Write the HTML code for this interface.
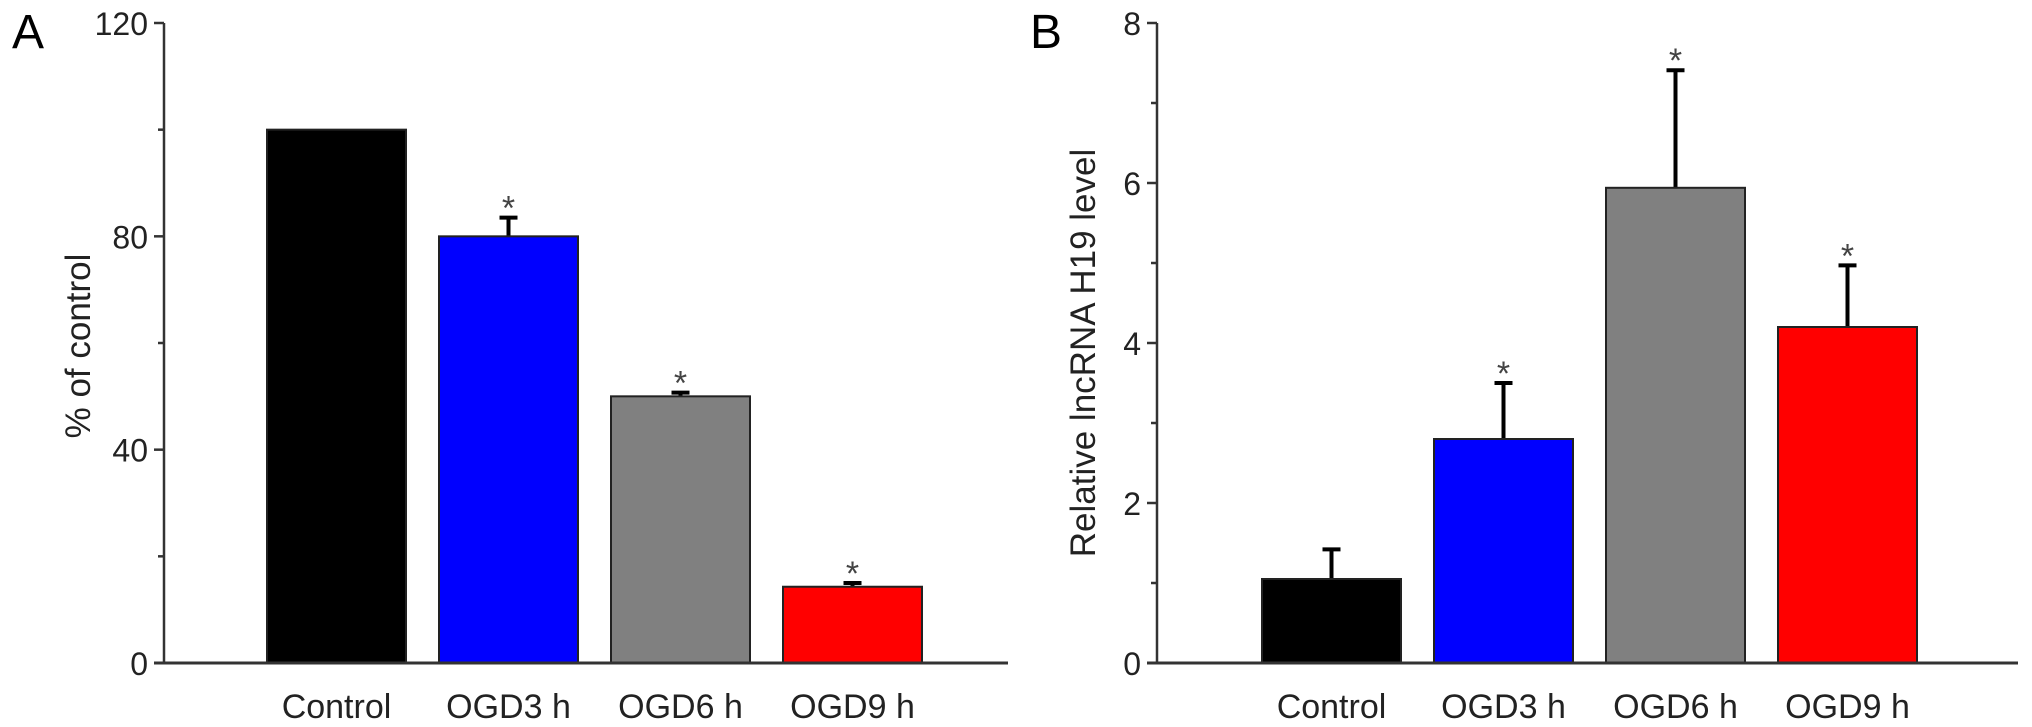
<!DOCTYPE html>
<html><head><meta charset="utf-8">
<style>
html,body{margin:0;padding:0;background:#fff;}
svg{display:block;font-family:"Liberation Sans",Arial,sans-serif;}
</style></head>
<body>
<svg id="fig" width="2032" height="727" viewBox="0 0 2032 727"></svg>
<script>
const categories = ["Control","OGD3 h","OGD6 h","OGD9 h"];
const colors = ["#000000","#0000ff","#808080","#ff0000"];
const valuesA = [100, 80, 50, 14.3];
const errorsA = [0, 3.5, 0.7, 0.7];
const sigA = [false, true, true, true];
const ticksA = [0, 40, 80, 120];
const minorA = [20, 60, 100];
const valuesB = [1.05, 2.8, 5.94, 4.2];
const errorsB = [0.37, 0.7, 1.47, 0.77];
const sigB = [false, true, true, true];
const ticksB = [0, 2, 4, 6, 8];
const minorB = [1, 3, 5, 7];

const NS = "http://www.w3.org/2000/svg";
const svg = document.getElementById("fig");
function mk(tag, attrs, parent){
  const e = document.createElementNS(NS, tag);
  for (const k in attrs) e.setAttribute(k, attrs[k]);
  (parent||svg).appendChild(e);
  return e;
}

function panel(cfg){
  const g = mk("g", {});
  
  
  const y0 = 663, yTop = 23;
  const yScale = v => y0 - (v - cfg.min) / (cfg.max - cfg.min) * (y0 - yTop);
  const xBand = i => cfg.firstBar + i * cfg.pitch;
  const L = mk("text", {x: cfg.letterX, y: 48, "font-size": 48, fill: "#000"}, g);
  L.textContent = cfg.letter;
  
  
  const ya = mk("line", {x1: cfg.axisX, y1: yTop, x2: cfg.axisX, y2: y0, stroke: "#333", "stroke-width": 2.5}, g);
  
  
  cfg.ticks.forEach(t => {
    const y = yScale(t);
    const tk = mk("line", {x1: cfg.axisX - 10, y1: y, x2: cfg.axisX, y2: y, stroke: "#333", "stroke-width": 2.5}, g);
    
    
    const tl = mk("text", {x: cfg.axisX - 16, y: y + 12, "font-size": 32, "text-anchor": "end", fill: "#222"}, g);
    tl.textContent = t;
    
    
  });
  cfg.minor.forEach(t => {
    const y = yScale(t);
    const tk = mk("line", {x1: cfg.axisX - 6, y1: y, x2: cfg.axisX, y2: y, stroke: "#333", "stroke-width": 2.5}, g);
    
    
  });
  const yt = mk("text", {x: 0, y: 0, "font-size": 35, "text-anchor": "middle", fill: "#222",
    transform: `translate(${cfg.titleX},${cfg.titleY}) rotate(-90)`}, g);
  yt.textContent = cfg.title;
  
  
  cfg.values.forEach((v, i) => {
    const x = xBand(i), y = yScale(v);
    if (cfg.errors[i] > 0) {
      const ye = yScale(v + cfg.errors[i]);
      const cx = x + cfg.barW / 2;
      const el = mk("line", {x1: cx, y1: y, x2: cx, y2: ye, stroke: "#000", "stroke-width": 4}, g);
      
      
      const cap = mk("line", {x1: cx - 9, y1: ye, x2: cx + 9, y2: ye, stroke: "#000", "stroke-width": 4}, g);
      
      
    }
    const r = mk("rect", {x: x, y: y, width: cfg.barW, height: y0 - y, fill: colors[i], stroke: "#222", "stroke-width": 2}, g);
    
    
    if (cfg.sig[i]) {
      const ye = yScale(v + cfg.errors[i]);
      const s = mk("text", {x: x + cfg.barW / 2, y: ye + 2, "font-size": 34, "text-anchor": "middle", fill: "#444"}, g);
      s.textContent = "*";
      
      
    }
    const cl = mk("text", {x: x + cfg.barW / 2, y: 718, "font-size": 34, "text-anchor": "middle", fill: "#222"}, g);
    cl.textContent = categories[i];
    
    
  });
  const xa = mk("line", {x1: cfg.axisX - 10, y1: y0, x2: cfg.axisEnd, y2: y0, stroke: "#333", "stroke-width": 3}, g);
  
  
}

panel({name: "panel-a", letter: "A", letterX: 12, axisX: 164, axisEnd: 1008, min: 0, max: 120,
  ticks: ticksA, minor: minorA, values: valuesA, errors: errorsA, sig: sigA,
  firstBar: 267, pitch: 172, barW: 139, title: "% of control", titleX: 90, titleY: 346});
panel({name: "panel-b", letter: "B", letterX: 1030, axisX: 1157, axisEnd: 2018, min: 0, max: 8,
  ticks: ticksB, minor: minorB, values: valuesB, errors: errorsB, sig: sigB,
  firstBar: 1262, pitch: 172, barW: 139, title: "Relative lncRNA H19 level", titleX: 1095, titleY: 353});
</script>
</body></html>
